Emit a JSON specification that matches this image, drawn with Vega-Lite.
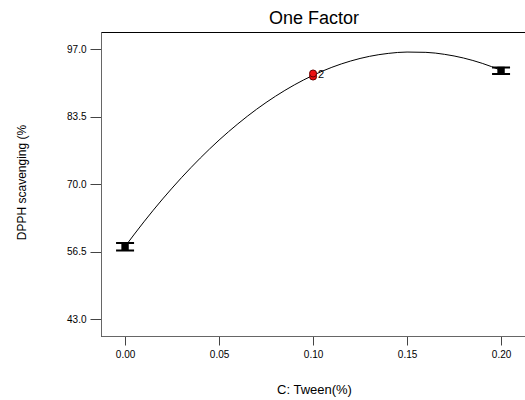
{
  "$schema": "https://vega.github.io/schema/vega-lite/v6.json",
  "autosize": "none",
  "padding": {"left": 101, "top": 32, "right": 0, "bottom": 64},
  "width": 426,
  "height": 304,
  "background": "white",
  "config": {
    "font": "Liberation Sans",
    "view": {"stroke": "#000", "strokeWidth": 1},
    "axis": {"grid": false, "domainColor": "#666", "tickColor": "#444", "labelColor": "#000", "titleColor": "#000", "labelFont": "Liberation Sans", "titleFont": "Liberation Sans", "titleFontWeight": "normal"}
  },
  "title": {"text": "One Factor", "fontSize": 18, "fontWeight": "normal", "font": "Liberation Sans", "anchor": "middle", "offset": 4, "color": "#000"},
  "datasets": {
    "curve": [
      {"x": 0.00, "y": 57.5}, {"x": 0.01, "y": 62.42}, {"x": 0.02, "y": 67.01}, {"x": 0.03, "y": 71.26},
      {"x": 0.04, "y": 75.18}, {"x": 0.05, "y": 78.78}, {"x": 0.06, "y": 82.03}, {"x": 0.07, "y": 84.96},
      {"x": 0.08, "y": 87.55}, {"x": 0.09, "y": 89.81}, {"x": 0.10, "y": 91.74}, {"x": 0.11, "y": 93.34},
      {"x": 0.12, "y": 94.60}, {"x": 0.13, "y": 95.53}, {"x": 0.14, "y": 96.12}, {"x": 0.15, "y": 96.39},
      {"x": 0.16, "y": 96.33}, {"x": 0.17, "y": 95.93}, {"x": 0.18, "y": 95.20}, {"x": 0.19, "y": 94.13},
      {"x": 0.20, "y": 92.74}
    ],
    "err": [
      {"x": 0.0, "y": 57.5, "lo": 56.7, "hi": 58.2},
      {"x": 0.2, "y": 92.7, "lo": 92.0, "hi": 93.3}
    ],
    "reps": [
      {"x": 0.1, "y": 91.5},
      {"x": 0.1, "y": 92.1}
    ],
    "lab": [
      {"x": 0.1, "y": 91.8, "t": "2"}
    ]
  },
  "layer": [
    {
      "data": {"name": "curve"},
      "mark": {"type": "line", "color": "#000", "strokeWidth": 1, "interpolate": "monotone", "clip": true},
      "encoding": {
        "x": {"field": "x", "type": "quantitative", "scale": {"domain": [-0.0128, 0.2138], "nice": false, "zero": false},
          "axis": {"title": "C: Tween(%)", "values": [0, 0.05, 0.1, 0.15, 0.2], "format": ".2f", "labelFontSize": 10, "tickSize": 9, "labelPadding": 4, "titleFontSize": 13, "titlePadding": 24, "domain": true}},
        "y": {"field": "y", "type": "quantitative", "scale": {"domain": [39.6, 100.4], "nice": false, "zero": false},
          "axis": {"title": "DPPH scavenging (%", "values": [43, 56.5, 70, 83.5, 97], "format": ".1f", "labelFontSize": 10, "tickSize": 11, "labelPadding": 4, "titleFontSize": 12, "titleAngle": -90, "titleX": -76, "titleY": 150, "titleAlign": "center", "titleBaseline": "alphabetic"}}
      }
    },
    {
      "data": {"name": "err"},
      "mark": {"type": "rule", "color": "#000", "strokeWidth": 1},
      "encoding": {
        "x": {"field": "x", "type": "quantitative"},
        "y": {"field": "lo", "type": "quantitative"},
        "y2": {"field": "hi"}
      }
    },
    {
      "data": {"name": "err"},
      "mark": {"type": "tick", "orient": "horizontal", "color": "#000", "size": 18, "thickness": 2, "opacity": 1},
      "encoding": {
        "x": {"field": "x", "type": "quantitative"},
        "y": {"field": "lo", "type": "quantitative"}
      }
    },
    {
      "data": {"name": "err"},
      "mark": {"type": "tick", "orient": "horizontal", "color": "#000", "size": 18, "thickness": 2, "opacity": 1},
      "encoding": {
        "x": {"field": "x", "type": "quantitative"},
        "y": {"field": "hi", "type": "quantitative"}
      }
    },
    {
      "data": {"name": "err"},
      "mark": {"type": "square", "color": "#000", "filled": true, "size": 55, "opacity": 1},
      "encoding": {
        "x": {"field": "x", "type": "quantitative"},
        "y": {"field": "y", "type": "quantitative"}
      }
    },
    {
      "data": {"name": "reps"},
      "mark": {"type": "circle", "fill": "#ee1111", "stroke": "#660000", "strokeWidth": 1, "size": 50, "opacity": 1},
      "encoding": {
        "x": {"field": "x", "type": "quantitative"},
        "y": {"field": "y", "type": "quantitative"}
      }
    },
    {
      "data": {"name": "lab"},
      "mark": {"type": "text", "align": "left", "baseline": "middle", "dx": 5, "fontSize": 11, "color": "#000", "font": "Liberation Sans"},
      "encoding": {
        "x": {"field": "x", "type": "quantitative"},
        "y": {"field": "y", "type": "quantitative"},
        "text": {"field": "t"}
      }
    }
  ]
}
